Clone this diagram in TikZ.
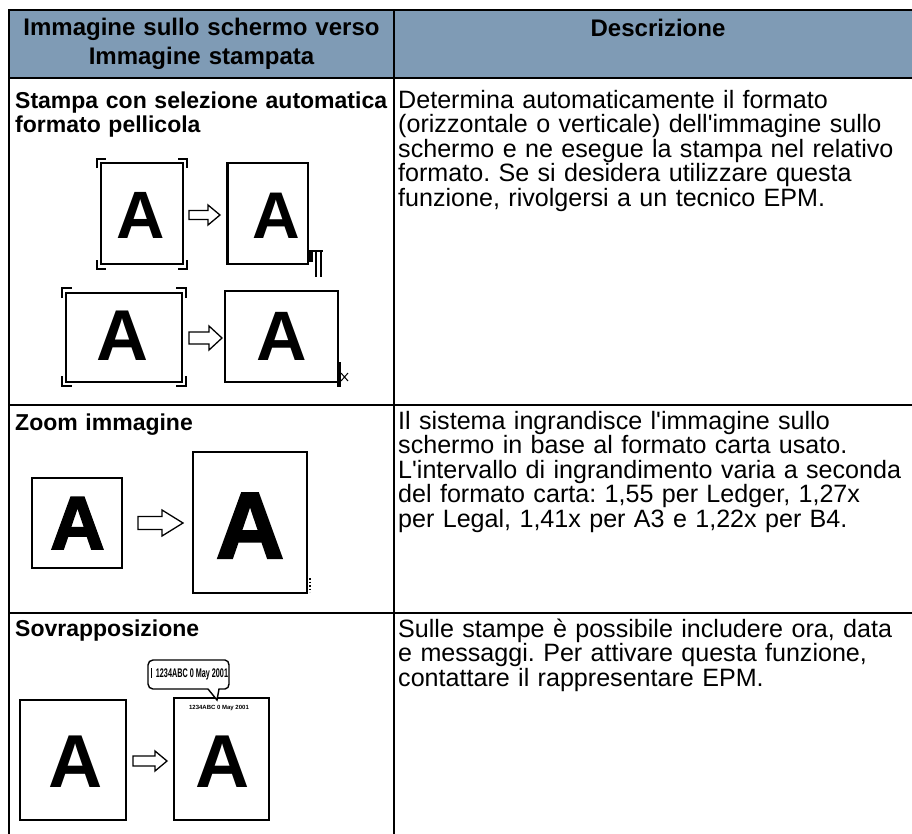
\documentclass[tikz,border=0pt]{standalone}
\usepackage{fontspec}
\usepackage{graphicx}
\setmainfont{Liberation Sans}[Ligatures=TeXOff]
\newfontfamily\heavyfont[BoldFeatures={FakeBold=2.5}]{Liberation Sans}
\definecolor{hdr}{RGB}{127,155,181}
\newcommand\blkarrow[6]{\draw[blk] (#1,#3-#4) -- (#6,#3-#4) -- (#6,#3-#5) -- (#2,#3) -- (#6,#3+#5) -- (#6,#3+#4) -- (#1,#3+#4) -- cycle;}
\newcommand\crnbr[5]{%
\draw[brk] (#1,#2+#5) -- (#1,#2) -- (#1+#5,#2);
\draw[brk] (#3-#5,#2) -- (#3,#2) -- (#3,#2+#5);
\draw[brk] (#1,#4-#5) -- (#1,#4) -- (#1+#5,#4);
\draw[brk] (#3-#5,#4) -- (#3,#4) -- (#3,#4-#5);}
\frenchspacing
\begin{document}
\begin{tikzpicture}[x=1pt,y=-1pt,
  tline/.style={line width=2pt, line cap=rect},
  pg/.style={draw, line width=1.6pt, fill=white, inner sep=0pt},
  brk/.style={line width=1.8pt},
  blk/.style={draw, line width=1.3pt, fill=white, line join=miter},
  pmark/.style={line width=1.5pt},
  hdtext/.style={font=\fontsize{24}{29}\selectfont\bfseries, align=center, inner sep=0pt, anchor=base},
  ttl/.style={font=\fontsize{23}{24.4}\selectfont\bfseries, align=left, anchor=base west, inner sep=0pt, text width=380pt},
  desc/.style={font=\fontsize{25.1}{24.5}\selectfont, align=left, anchor=base west, inner sep=0pt, text width=560pt},
  letA/.style={anchor=base, inner sep=0pt}
]
\useasboundingbox (0,0) rectangle (912,833);
\fill[white] (0,0) rectangle (912,833);
% header
\fill[hdr] (9,10) rectangle (912,78);
\node[hdtext, text width=380pt] (h1) at (201.5,35.5) {Immagine sullo schermo verso\\Immagine stampata};
\node[hdtext] (h2) at (658,36.5) {Descrizione};
% table lines
\draw[tline] (9,10) -- (912,10);
\draw[tline] (9,78) -- (912,78);
\draw[tline] (9,405) -- (912,405);
\draw[tline] (9,613) -- (912,613);
\draw[tline] (9,10) -- (9,833);
\draw[tline] (394,10) -- (394,833);
% titles
\node[ttl] (t1) at (15,108) {Stampa con selezione automatica\\formato pellicola};
\node[ttl] (t2) at (15,430) {Zoom immagine};
\node[ttl] (t3) at (15,636) {Sovrapposizione};
% descriptions
\node[desc] (d1) at (398,108) {Determina automaticamente il formato\\(orizzontale o verticale) dell'immagine sullo\\schermo e ne esegue la stampa nel relativo\\formato. Se si desidera utilizzare questa\\funzione, rivolgersi a un tecnico EPM.};
\node[desc] (d2) at (398,429) {Il sistema ingrandisce l'immagine sullo\\schermo in base al formato carta usato.\\L'intervallo di ingrandimento varia a seconda\\del formato carta: 1,55 per Ledger, 1,27x\\per Legal, 1,41x per A3 e 1,22x per B4.};
\node[desc] (d3) at (398,637) {Sulle stampe è possibile includere ora, data\\e messaggi. Per attivare questa funzione,\\contattare il rappresentare EPM.};

% ---- row 1 illustrations
\node[pg, minimum width=82, minimum height=101] (s1) at (141.7,213.5) {};
\node[pg, minimum width=81, minimum height=101] (s2) at (267.5,213.5) {};
\draw[line width=1pt] ([xshift=2pt]s2.north west) -- ([xshift=2pt]s2.south west);
\crnbr{97}{159}{187}{269}{9}
\node[letA, font=\fontsize{67}{67}\selectfont\bfseries] (a1) at (141,238) {A};
\node[letA, font=\fontsize{66}{66}\selectfont\bfseries] (a2) at (276,238) {A};
\blkarrow{189}{220}{215}{4.5}{10}{208}
\fill (308,250) rectangle (313,262);
\draw[pmark] (313,251) -- (323,251);
\draw[pmark] (316,251) -- (316,277);
\draw[pmark] (321,251) -- (321,277);

\node[pg, minimum width=116, minimum height=89] (s3) at (124,337.5) {};
\node[pg, minimum width=113, minimum height=91] (s4) at (281.5,336.5) {};
\crnbr{62}{288}{186}{386}{10}
\node[letA, font=\fontsize{72}{72}\selectfont\bfseries] (a3) at (122.5,360) {A};
\node[letA, font=\fontsize{70}{70}\selectfont\bfseries] (a4) at (282,360) {A};
\blkarrow{189}{222}{338}{6}{12}{209}
\fill (337,362) rectangle (341,387);
\draw[line width=1pt] (341,373) -- (348,381) (341,381) -- (348,373);

% ---- row 2 illustrations
\node[pg, line width=2pt, minimum width=90, minimum height=90] (z1) at (77,523) {};
\node[pg, line width=1.8pt, minimum width=114, minimum height=141] (z2) at (250,522.5) {};
\node[letA, font=\fontsize{75}{75}\selectfont\heavyfont\bfseries] (a5) at (77.5,549) {A};
\node[letA, font=\fontsize{94}{94}\selectfont\heavyfont\bfseries] (a6) at (250,558) {A};
\blkarrow{138}{183}{523}{6.5}{13}{162}
\draw[line width=1.5pt, dotted] (310,578) -- (310,592);

% ---- row 3 illustrations
\node[pg, line width=2pt, minimum width=106, minimum height=120] (o1) at (73,760) {};
\node[pg, line width=2pt, minimum width=95, minimum height=122] (o2) at (221.5,759) {};
\node[letA, font=\fontsize{75}{75}\selectfont\bfseries] (a7) at (76,787) {A};
\node[letA, font=\fontsize{75}{75}\selectfont\bfseries] (a8) at (222.5,787) {A};
\blkarrow{133}{167}{761}{5}{10}{155}
\node[inner sep=0pt, font=\fontsize{6}{6}\selectfont\bfseries] (st) at (219,708) {1234ABC 0 May 2001};
\draw[line width=1.4pt, fill=white] (153,660) -- (225,660) to[out=0,in=90] (229,665) -- (229,684) to[out=-90,in=0] (225,689) -- (219,689) -- (217,700) -- (208,689) -- (153,689) to[out=180,in=-90] (148,684) -- (148,665) to[out=90,in=180] (153,660) -- cycle;
\draw[line width=1.2pt] (151.5,668) -- (151.5,678);
\node[inner sep=0pt] (bt) at (192,674.5) {\scalebox{0.58}[1]{\fontsize{12.5}{12.5}\selectfont\bfseries 1234ABC 0 May 2001}};
\end{tikzpicture}
\end{document}
